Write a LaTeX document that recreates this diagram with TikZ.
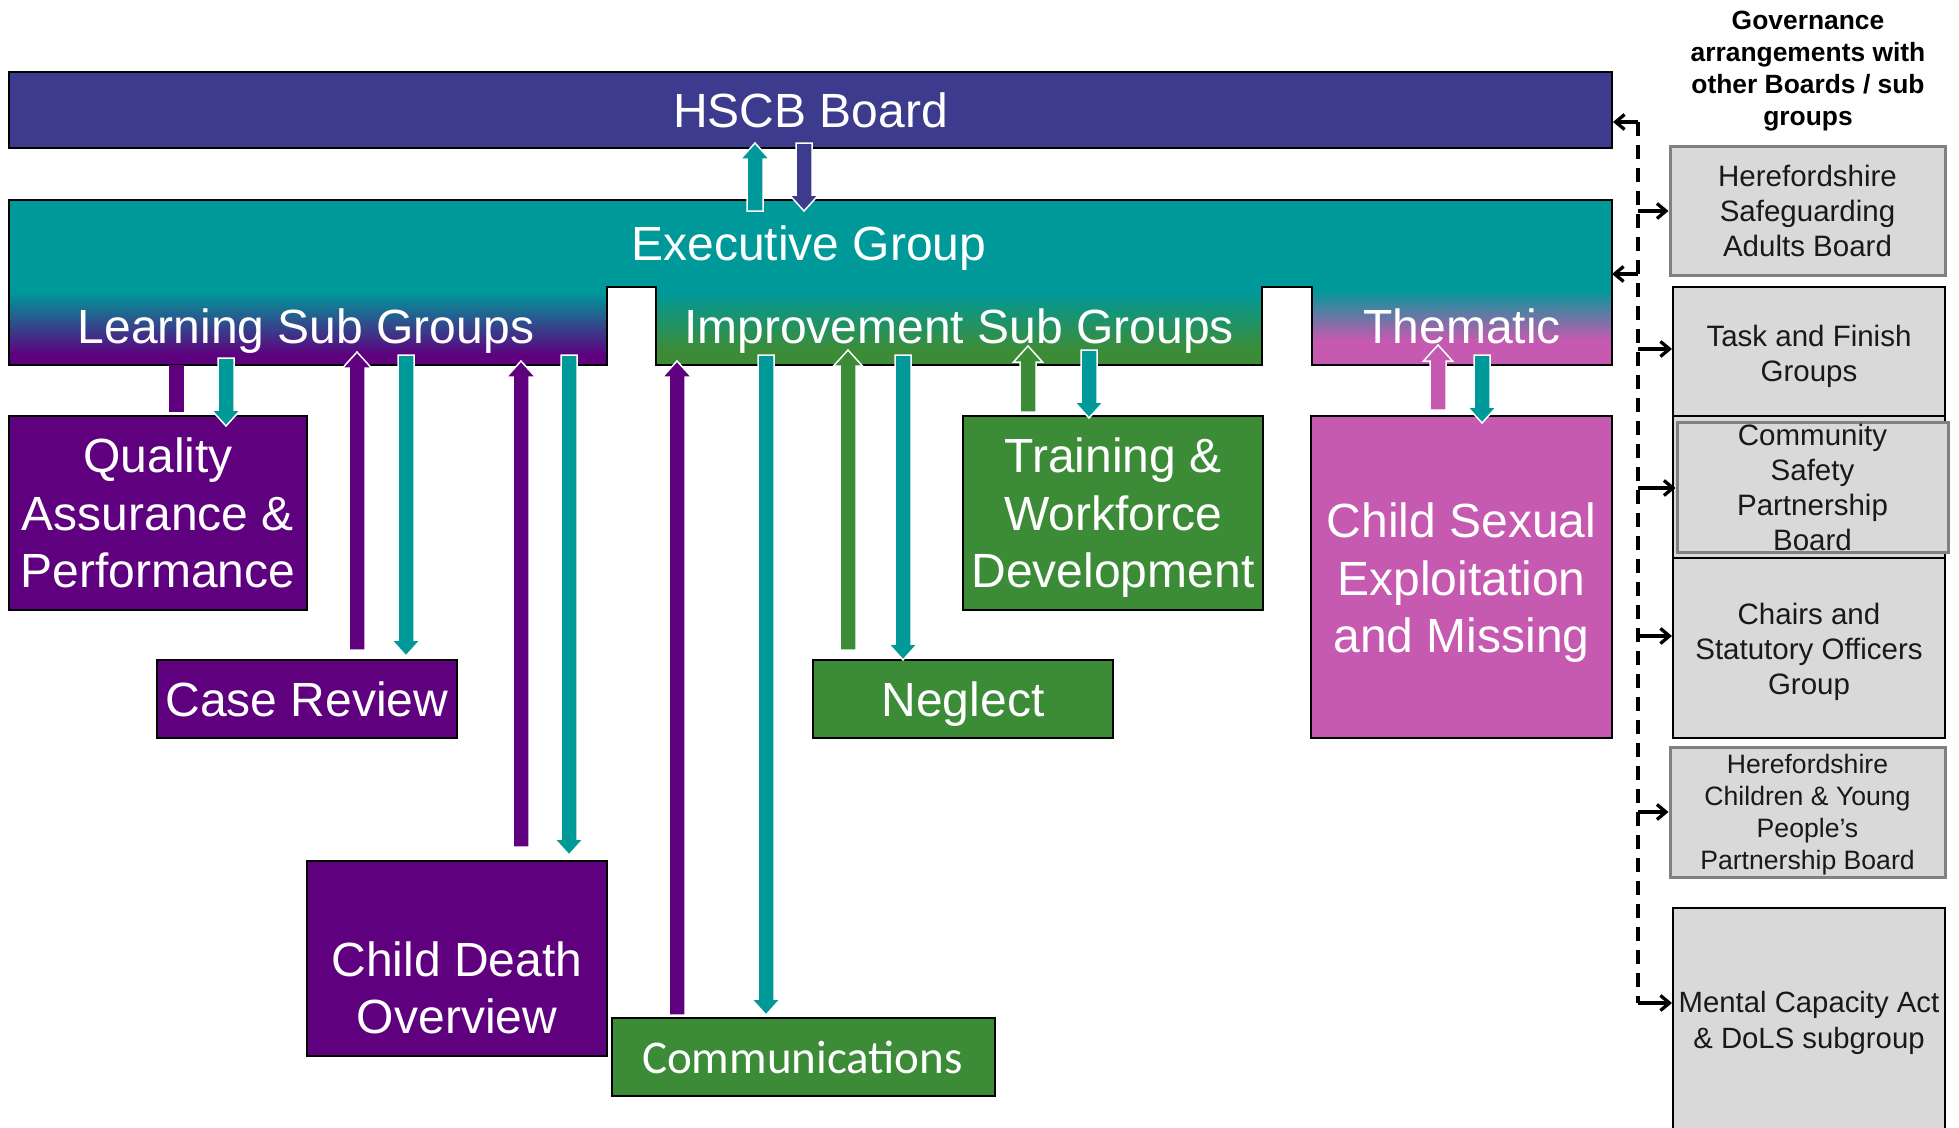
\documentclass[tikz,border=0pt]{standalone}
\usepackage{fontspec}
\setmainfont{Liberation Sans}
\newfontfamily\calibrifont{Carlito}
\usetikzlibrary{calc,arrows.meta}
\definecolor{navyc}{HTML}{3D3B8E}
\definecolor{tealc}{HTML}{009999}
\definecolor{purpc}{HTML}{5F007F}
\definecolor{greenc}{HTML}{3C8C37}
\definecolor{pinkc}{HTML}{C55AB0}
\definecolor{grayc}{HTML}{D9D9D9}
\definecolor{grayb}{HTML}{808080}
\tikzset{
  big/.style={font=\fontsize{48}{57.5}\selectfont, text=white, align=center},
  mbox/.style={draw=black, line width=2pt, inner sep=0pt, big},
  gbox/.style={fill=grayc, draw=black, line width=2pt, inner sep=0pt},
  gboxg/.style={fill=grayc, draw=grayb, line width=3pt, inner sep=0pt},
  gtxt/.style={font=\fontsize{29.5}{35}\selectfont, align=center, text=black!90},
  blkup/.style={fill=#1, draw=white, line width=1.5pt, line join=miter,
    to path={let \p1=(\tikztostart), \p2=(\tikztotarget) in
      (\x1-8pt,\y1) -- (\x1-8pt,\y2-16pt) -- (\x1-14.5pt,\y2-16pt) -- (\x1,\y2)
      -- (\x1+14.5pt,\y2-16pt) -- (\x1+8pt,\y2-16pt) -- (\x1+8pt,\y1) -- cycle}},
  blkdn/.style={fill=#1, draw=white, line width=1.5pt, line join=miter,
    to path={let \p1=(\tikztostart), \p2=(\tikztotarget) in
      (\x1-8pt,\y1) -- (\x1-8pt,\y2+16pt) -- (\x1-14.5pt,\y2+16pt) -- (\x1,\y2)
      -- (\x1+14.5pt,\y2+16pt) -- (\x1+8pt,\y2+16pt) -- (\x1+8pt,\y1) -- cycle}},
  gov/.style={line width=3.3pt, dash pattern=on 14pt off 9pt},
  garrow/.style={line width=3.3pt, -{Straight Barb[length=9pt,width=15pt]}},
}
\begin{document}
\begin{tikzpicture}[x=1pt,y=-1pt]
\useasboundingbox (0,0) rectangle (1959,1127);
\fill[white] (0,0) rectangle (1959,1127);

% HSCB Board
\node[fill=navyc, draw=black, line width=2pt, minimum width=1603pt, minimum height=76pt, inner sep=0pt, big] (hscb) at (810.5,110) {HSCB Board};

% Executive group shape
\fill[tealc] (9,200) -- (1612,200) -- (1612,365) -- (1312,365) -- (1312,287) -- (1262,287) -- (1262,365) -- (656,365) -- (656,287) -- (607,287) -- (607,365) -- (9,365) -- cycle;
\shade[top color=tealc, bottom color=purpc] (9,292) rectangle (607,355);
\fill[purpc] (9,355) rectangle (607,365);
\shade[top color=tealc, bottom color=greenc] (656,292) rectangle (1262,350);
\fill[greenc] (656,350) rectangle (1262,365);
\shade[top color=tealc, bottom color=pinkc] (1312,290) rectangle (1612,340);
\fill[pinkc] (1312,340) rectangle (1612,365);
\draw[line width=2pt, line join=miter] (9,200) -- (1612,200) -- (1612,365) -- (1312,365) -- (1312,287) -- (1262,287) -- (1262,365) -- (656,365) -- (656,287) -- (607,287) -- (607,365) -- (9,365) -- cycle;
\coordinate (execR) at (1612,274);

\node[big, anchor=base] (exec) at (809,260) {Executive Group};
\node[big, anchor=base] (learn) at (306,343) {Learning Sub Groups};
\node[big, anchor=base] (improve) at (959,343) {Improvement Sub Groups};
\node[big, anchor=base] (thematic) at (1462,343) {Thematic};

% Sub group boxes
\node[mbox, fill=purpc, minimum width=298pt, minimum height=194pt] (quality) at (158,513) {Quality\\Assurance \&\\Performance};
\node[mbox, fill=purpc, minimum width=300pt, minimum height=78pt] (case) at (307,699) {Case Review};
\node[mbox, fill=purpc, minimum width=300pt, minimum height=195pt] (cdo) at (457,958.5) {};
\node[big] (cdotext) at (457,988) {Child Death\\Overview};
\node[mbox, fill=greenc, minimum width=383pt, minimum height=78pt] (comm) at (803.5,1057) {};
\node[big, font=\calibrifont\fontsize{47}{56}\selectfont, anchor=base] (commtext) at (802.5,1073) {Communications};
\node[mbox, fill=greenc, minimum width=300pt, minimum height=78pt] (neglect) at (963,699) {};
\node[big] (neglecttext) at (963,704) {Neglect};
\node[mbox, fill=greenc, minimum width=300pt, minimum height=194pt] (training) at (1113,513) {};
\node[big] (trainingtext) at (1113,518) {Training \&\\Workforce\\Development};
\node[mbox, fill=pinkc, minimum width=301pt, minimum height=322pt] (cse) at (1461.5,577) {};
\node[big] (csetext) at (1461.5,583) {Child Sexual\\Exploitation\\and Missing};

% Block arrows
\coordinate (a1s) at (755,211); \coordinate (a1e) at (755,143);
\coordinate (a2s) at (804,143); \coordinate (a2e) at (804,211);
\coordinate (b0s) at (176,365); \coordinate (b0e) at (176,412);
\coordinate (b1s) at (226,358); \coordinate (b1e) at (226,426);
\coordinate (c1s) at (357,650); \coordinate (c1e) at (357,352);
\coordinate (c2s) at (406,355); \coordinate (c2e) at (406,656);
\coordinate (d1s) at (521,847); \coordinate (d1e) at (521,361);
\coordinate (d2s) at (569,355); \coordinate (d2e) at (569,855);
\coordinate (e1s) at (677,1015); \coordinate (e1e) at (677,361);
\coordinate (e2s) at (766,355); \coordinate (e2e) at (766,1015);
\coordinate (f1s) at (848,650); \coordinate (f1e) at (848,350);
\coordinate (f2s) at (903,355); \coordinate (f2e) at (903,660);
\coordinate (g1s) at (1028,412); \coordinate (g1e) at (1028,346);
\coordinate (g2s) at (1089,350); \coordinate (g2e) at (1089,418);
\coordinate (h1s) at (1438,410); \coordinate (h1e) at (1438,345);
\coordinate (h2s) at (1482,355); \coordinate (h2e) at (1482,423);

\draw[blkup=tealc] (a1s) to (a1e);
\draw[blkdn=navyc] (a2s) to (a2e);
\draw[purpc, line width=15pt] (b0s) -- (b0e);
\draw[blkdn=tealc] (b1s) to (b1e);
\draw[blkup=purpc] (c1s) to (c1e);
\draw[blkdn=tealc] (c2s) to (c2e);
\draw[blkup=purpc] (d1s) to (d1e);
\draw[blkdn=tealc] (d2s) to (d2e);
\draw[blkup=purpc] (e1s) to (e1e);
\draw[blkdn=tealc] (e2s) to (e2e);
\draw[blkup=greenc] (f1s) to (f1e);
\draw[blkdn=tealc] (f2s) to (f2e);
\draw[blkup=greenc] (g1s) to (g1e);
\draw[blkdn=tealc] (g2s) to (g2e);
\draw[blkup=pinkc] (h1s) to (h1e);
\draw[blkdn=tealc] (h2s) to (h2e);

% Governance column
\node[font=\bfseries\fontsize{26.4}{32}\selectfont, align=center] (title) at (1808,71) {Governance\\arrangements with\\other Boards / sub\\groups};
\node[gboxg, minimum width=275pt, minimum height=129pt] (hsab) at (1807.5,210.5) {};
\node[gtxt] (hsabtext) at (1807.5,211) {Herefordshire\\Safeguarding\\Adults Board};
\node[gbox, minimum width=272pt, minimum height=129pt] (task) at (1809,351.5) {};
\node[gtxt] (tasktext) at (1809,356) {Task and Finish\\Groups};
\node[gbox, minimum width=272pt, minimum height=142pt] (commout) at (1809,487) {};
\node[gboxg, minimum width=271pt, minimum height=130pt, gtxt] (csp) at (1812.5,487) {Community\\Safety\\Partnership\\Board};
\node[gbox, minimum width=272pt, minimum height=180pt] (chairs) at (1809,648) {};
\node[gtxt] (chairstext) at (1809,652) {Chairs and\\Statutory Officers\\Group};
\node[gboxg, minimum width=275pt, minimum height=130pt] (cyp) at (1807.5,812) {};
\node[gtxt, font=\fontsize{26.6}{32}\selectfont] (cyptext) at (1807.5,815) {Herefordshire\\Children \& Young\\People’s\\Partnership Board};
\node[gbox, minimum width=272pt, minimum height=232pt] (mca) at (1809,1024) {};
\node[gtxt, font=\fontsize{29.3}{36}\selectfont] (mcatext) at (1809,1023) {Mental Capacity Act\\\& DoLS subgroup};

\coordinate (gtop) at (1638,122);
\coordinate (gex) at (1638,274);
\coordinate (gb1) at (1638,211);
\coordinate (gb2) at (1638,349);
\coordinate (gb3) at (1638,488);
\coordinate (gb4) at (1638,636);
\coordinate (gb5) at (1638,812);
\coordinate (gbot) at (1638,1003);
\draw[gov] (gtop) -- (gbot);
\draw[garrow] (gtop) -- (gtop -| hscb.east);
\draw[garrow] (gex) -- (execR);
\draw[garrow] (gb1) -- (gb1 -| hsab.west);
\draw[garrow] (gb2) -- (gb2 -| task.west);
\draw[garrow] (gb3) -- (gb3 -| csp.west);
\draw[garrow] (gb4) -- (gb4 -| chairs.west);
\draw[garrow] (gb5) -- (gb5 -| cyp.west);
\draw[garrow] (gbot) -- (gbot -| mca.west);
\end{tikzpicture}
\end{document}
